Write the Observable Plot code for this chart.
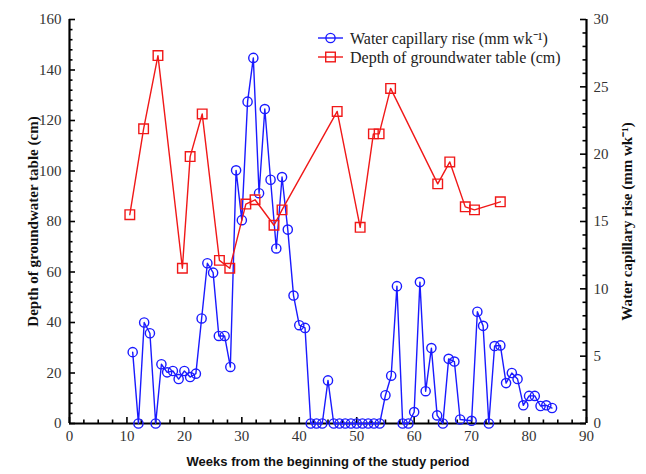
<!DOCTYPE html>
<html>
<head>
<meta charset="utf-8">
<script src="https://cdn.jsdelivr.net/npm/d3@7"></script>
<script src="https://cdn.jsdelivr.net/npm/@observablehq/plot@0.6"></script>
<style>
  html, body { margin: 0; padding: 0; background: #fff; }
  #chart { width: 646px; height: 474px; }
</style>
</head>
<body>
<div id="chart"></div>
<script>
// Water capillary rise (mm wk-1), right axis
const riseWeeks = [11,12,13,14,15,16,17,18,19,20,21,22,23,24,25,26,27,28,29,30,31,32,33,34,35,36,37,38,39,40,41,42,43,44,45,46,47,48,49,50,51,52,53,54,55,56,57,58,59,60,61,62,63,64,65,66,67,68,70,71,72,73,74,75,76,77,78,79,80,81,82,83,84];
const riseValues = [5.3,0,7.5,6.7,0,4.4,3.8,3.9,3.3,3.9,3.45,3.7,7.8,11.9,11.2,6.5,6.5,4.2,18.8,15.1,23.9,27.15,17.1,23.35,18.1,13.0,18.3,14.4,9.5,7.3,7.1,0,0,0,3.2,0,0,0,0,0,0,0,0,0,2.1,3.55,10.2,0,0,0.85,10.5,2.4,5.6,0.6,0,4.8,4.6,0.3,0.2,8.3,7.25,0,5.75,5.8,3.0,3.75,3.3,1.35,2.05,2.05,1.3,1.35,1.15];

// Depth of groundwater table (cm), left axis
const depthWeeks = [10.5,12.9,15.4,19.65,21,23.1,26.1,27.9,30.7,32.3,35.6,37,46.6,50.6,52.9,53.9,55.9,64.1,66.2,68.9,70.5,75];
const depthValues = [82.7,116.7,145.7,61.5,105.7,122.6,64.6,61.5,86.9,88.6,78.5,84.6,123.6,77.7,114.7,114.7,132.7,94.9,103.6,85.8,84.6,87.8];

const xTicks = [0,10,20,30,40,50,60,70,80,90];
const leftTicks = [0,20,40,60,80,100,120,140,160];
const rightTicks = [0,5,10,15,20,25,30];

const xTitle = "Weeks from the beginning of the study period";
const leftTitle = "Depth of groundwater table (cm)";
const rightTitle = "Water capillary rise (mm wk⁻¹)";
const legendLabels = ["Water capillary rise (mm wk⁻¹)", "Depth of groundwater table (cm)"];

const LEFT_MAX = 160, RIGHT_MAX = 30;
const toLeft = v => v * LEFT_MAX / RIGHT_MAX;

const rise = riseWeeks.map((w, i) => ({week: w, v: toLeft(riseValues[i])}));
const depth = depthWeeks.map((w, i) => ({week: w, v: depthValues[i]}));

const W = 646, H = 474, mL = 69, mR = 60, mT = 19, mB = 51;
const pw = W - mL - mR, ph = H - mT - mB;

const xMinor = d3.range(0, 90.01, 2.5).filter(d => d % 10 !== 0);
const leftMinor = d3.range(0, 160.01, 4).filter(d => d % 20 !== 0);
const rightMinor = d3.range(0, 30.01, 1).filter(d => d % 5 !== 0).map(toLeft);
const rightMajor = rightTicks.map(toLeft);

const serif = "'Liberation Serif', 'Times New Roman', serif";
const sans = "'Liberation Sans', Arial, sans-serif";
const BLUE = "#1a1aff", RED = "#f01818";

const chart = Plot.plot({
  width: W, height: H,
  marginLeft: mL, marginRight: mR, marginTop: mT, marginBottom: mB,
  style: {fontFamily: serif, background: "#fff", overflow: "visible"},
  x: {domain: [0, 90], axis: null},
  y: {domain: [0, 160], axis: null},
  marks: [
    // tick labels
    Plot.axisX(xTicks, {tickSize: 0, tickPadding: 7, fontSize: 15, fill: "#333", label: null}),
    Plot.axisY(leftTicks, {tickSize: 0, tickPadding: 8, fontSize: 15, fill: "#333", label: null}),
    Plot.axisY(rightMajor, {anchor: "right", tickSize: 0, tickPadding: 7, fontSize: 15, fill: "#333", label: null,
      tickFormat: d => String(Math.round(d * RIGHT_MAX / LEFT_MAX))}),
    // inward ticks
    Plot.tickX(xTicks, {x: d => d, insetTop: ph - 6, strokeWidth: 1.6}),
    Plot.tickX(xMinor, {x: d => d, insetTop: ph - 3.5, strokeWidth: 1.6}),
    Plot.tickY(leftTicks, {y: d => d, insetRight: pw - 6, strokeWidth: 1.6}),
    Plot.tickY(leftMinor, {y: d => d, insetRight: pw - 3.5, strokeWidth: 1.6}),
    Plot.tickY(rightMajor, {y: d => d, insetLeft: pw - 6, strokeWidth: 1.6}),
    Plot.tickY(rightMinor, {y: d => d, insetLeft: pw - 3.5, strokeWidth: 1.6}),
    // axis lines
    Plot.ruleX([0], {strokeWidth: 2.2}),
    Plot.ruleX([90], {strokeWidth: 2.2}),
    Plot.ruleY([0], {strokeWidth: 2.2}),
    // series
    Plot.line(rise, {x: "week", y: "v", stroke: BLUE, strokeWidth: 1.4}),
    Plot.dot(rise, {x: "week", y: "v", r: 4.6, stroke: BLUE, strokeWidth: 1.4, fill: "none"}),
    Plot.line(depth, {x: "week", y: "v", stroke: RED, strokeWidth: 1.4}),
    Plot.dot(depth, {x: "week", y: "v", r: 5.4, symbol: "square", stroke: RED, strokeWidth: 1.4, fill: "none"}),
    // titles
    Plot.text([xTitle], {frameAnchor: "bottom", dy: 42, fontFamily: sans, fontWeight: "bold", fontSize: 13, fill: "#111"}),
    Plot.text([leftTitle], {frameAnchor: "left", textAnchor: "middle", dx: -36, rotate: -90, fontWeight: "bold", fontSize: 15, fill: "#111"}),
    Plot.text([rightTitle], {frameAnchor: "right", textAnchor: "middle", dx: 41, rotate: -90, fontWeight: "bold", fontSize: 15, fill: "#111"})
  ]
});

document.getElementById("chart").appendChild(chart);

// legend
const svg = d3.select(chart);
const lg = svg.append("g").attr("font-family", serif).attr("font-size", 16).attr("text-anchor", "start");
const items = [
  {label: legendLabels[0], color: BLUE, sym: "circle"},
  {label: legendLabels[1], color: RED, sym: "square"}
];
items.forEach((it, i) => {
  const y = 38 + i * 19;
  const g = lg.append("g");
  g.append("line").attr("x1", 318).attr("x2", 343).attr("y1", y).attr("y2", y)
    .attr("stroke", it.color).attr("stroke-width", 1.4);
  if (it.sym === "circle") {
    g.append("circle").attr("cx", 330.5).attr("cy", y).attr("r", 4.6)
      .attr("fill", "none").attr("stroke", it.color).attr("stroke-width", 1.4);
  } else {
    g.append("rect").attr("x", 325.7).attr("y", y - 4.8).attr("width", 9.6).attr("height", 9.6)
      .attr("fill", "none").attr("stroke", it.color).attr("stroke-width", 1.4);
  }
  g.append("text").attr("x", 350).attr("y", y).attr("dy", "0.35em").attr("text-anchor", "start")
    .attr("fill", "#222").text(it.label);
});
</script>
</body>
</html>
